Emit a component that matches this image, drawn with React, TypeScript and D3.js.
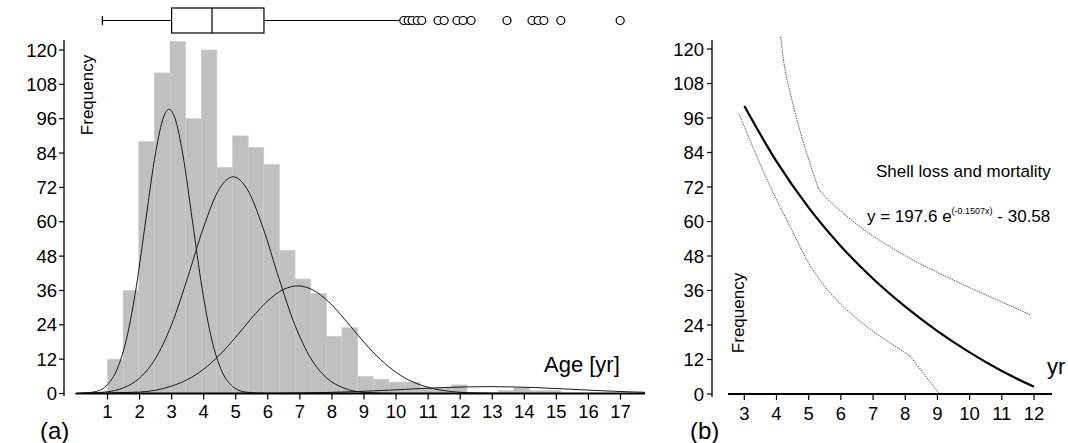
import * as d3 from "d3";

// ---- panel (a): age histogram ----
const binStart = 1;
const binWidth = 0.4875;
const counts = [12, 36, 88, 112, 123, 96, 120, 79, 90, 86, 80, 50, 40, 35, 20, 23, 6, 5, 4, 4, 2, 2, 3, 0, 0, 1, 2, 1, 1];

// fitted normal components, read as (age, frequency) points
const comp1Age = [0, 0.6, 1.0, 1.3, 1.6, 1.9, 2.2, 2.5, 2.75, 2.92, 3.1, 3.35, 3.65, 3.95, 4.25, 4.55, 4.9, 5.3, 6.0, 17.75];
const comp1Freq = [0, 0.6, 3.1, 8.5, 19.4, 37.4, 61.1, 84.1, 96.6, 99.3, 96.3, 83.5, 60.2, 36.7, 18.9, 8.2, 2.5, 0.5, 0, 0];
const comp2Age = [0, 1.0, 1.5, 2.0, 2.5, 3.0, 3.5, 4.0, 4.5, 4.92, 5.35, 5.85, 6.35, 6.85, 7.35, 7.85, 8.35, 9.0, 10.0, 17.75];
const comp2Freq = [0, 0.6, 2.0, 5.4, 12.3, 24.1, 40.5, 58.2, 71.7, 75.7, 71.5, 57.9, 40.1, 23.8, 12.1, 5.3, 2.0, 0.4, 0, 0];
const comp3Age = [0, 2.0, 3.0, 3.5, 4.0, 4.5, 5.0, 5.5, 6.0, 6.5, 6.93, 7.4, 7.9, 8.4, 8.9, 9.4, 9.9, 10.4, 10.9, 11.5, 12.5, 14.0, 17.75];
const comp3Freq = [0, 0.5, 2.6, 4.9, 8.5, 13.5, 19.7, 26.4, 32.4, 36.4, 37.6, 36.2, 32.0, 25.9, 19.2, 13.1, 8.2, 4.7, 2.5, 1.0, 0.2, 0, 0];
const comp4Age = [0, 5.0, 7.0, 8.5, 10.0, 11.5, 12.9, 14.3, 15.8, 17.3, 17.75];
const comp4Freq = [0, 0.02, 0.18, 0.57, 1.29, 2.08, 2.4, 2.08, 1.29, 0.57, 0.44];

// box plot of ages
const boxStats = { low: 0.84, q1: 3.0, median: 4.26, q3: 5.88, high: 10.12 };
const outliers = [10.24, 10.38, 10.5, 10.66, 10.8, 11.31, 11.5, 11.9, 12.09, 12.34, 13.46, 14.24, 14.43, 14.61, 15.14, 16.99];

const ageTicks = d3.range(1, 18);
const freqTicks = d3.range(0, 121, 12);

// ---- panel (b): shell loss and mortality ----
const fitYr = [3, 4, 5, 6, 7, 8, 9, 10, 11, 12];
const fitFreq = [100.2, 80.9, 64.8, 51.4, 40.1, 30.4, 21.9, 14.5, 8.0, 2.5];
// upper band: steep part, then flatter part after the bend at 5.3
const upperSteepYr = [4.13, 4.21, 4.42, 4.68, 4.99, 5.3];
const upperSteepFreq = [124.3, 116.8, 105.1, 93.6, 82.0, 71.5];
const upperFlatYr = [5.3, 5.6, 6.0, 6.5, 7.0, 7.5, 8.0, 9.0, 10.0, 11.0, 11.9];
const upperFlatFreq = [71.5, 67.6, 63.6, 59.0, 55.0, 51.4, 48.1, 42.3, 37.0, 32.0, 27.5];
// lower band: curve down to the bend at 8.15, then straight to zero
const lowerCurveYr = [2.84, 3.3, 3.8, 4.5, 5.0, 5.5, 6.0, 6.5, 7.0, 7.5, 8.15];
const lowerCurveFreq = [97.3, 85.0, 72.3, 56.5, 45.5, 37.5, 31.2, 26.2, 21.8, 18.0, 13.2];
const lowerTailYr = [8.15, 9.03];
const lowerTailFreq = [13.2, 0.5];
const yrTicks = d3.range(3, 13);

const font = "'Liberation Sans', Arial, sans-serif";
const tickSize = 18.5;

export default function App() {
  const xL = d3.scaleLinear().domain([1, 17]).range([107.5, 620.5]);
  const yL = d3.scaleLinear().domain([0, 120]).range([393.5, 50]);
  const xR = d3.scaleLinear().domain([3, 12]).range([744.3, 1034]);
  const yR = d3.scaleLinear().domain([0, 120]).range([394, 49]);

  const lineL = (ages: number[], freqs: number[]) =>
    d3
      .line<number>()
      .x((a) => xL(a))
      .y((_, i) => yL(freqs[i]))
      .curve(d3.curveMonotoneX)(ages) || "";

  const lineR = (yrs: number[], freqs: number[]) =>
    d3
      .line<number>()
      .x((a) => xR(a))
      .y((_, i) => yR(freqs[i]))
      .curve(d3.curveMonotoneX)(yrs) || "";

  const boxY0 = 8,
    boxY1 = 33,
    boxMid = 20.5;

  const dotted = { stroke: "#555", strokeWidth: 1, strokeDasharray: "1.5,1" };

  return (
    <svg
      width={1068}
      height={443}
      style={{ position: "absolute", left: 0, top: 0, background: "#fff", fontFamily: font }}
    >
      {/* ---------- panel (a) ---------- */}
      <g>
        {counts.map((c, i) => {
          const a0 = binStart + i * binWidth;
          if (!c) return null;
          return (
            <rect
              key={i}
              x={xL(a0)}
              y={yL(c)}
              width={xL(a0 + binWidth) - xL(a0)}
              height={yL(0) - yL(c)}
              fill="#c0c0c0"
              stroke="#cbcbcb"
              strokeWidth={0.6}
            />
          );
        })}
      </g>
      <g fill="none" stroke="#1a1a1a" strokeWidth={1}>
        <path d={lineL(comp4Age, comp4Freq)} />
        <path d={lineL(comp3Age, comp3Freq)} />
        <path d={lineL(comp2Age, comp2Freq)} />
        <path d={lineL(comp1Age, comp1Freq)} />
      </g>

      {/* x axis (a) */}
      <line x1={76} x2={645} y1={yL(0)} y2={yL(0)} stroke="#000" strokeWidth={2} />
      {ageTicks.map((t) => (
        <g key={t}>
          <line x1={xL(t)} x2={xL(t)} y1={yL(0)} y2={yL(0) + 6} stroke="#000" strokeWidth={1.2} />
          <text x={xL(t)} y={418} textAnchor="middle" fontSize={tickSize}>
            {t}
          </text>
        </g>
      ))}
      {/* y axis (a) */}
      <line x1={64} x2={64} y1={40} y2={396} stroke="#000" strokeWidth={1.3} />
      {freqTicks.map((t) => (
        <g key={t}>
          <line x1={59} x2={64} y1={yL(t)} y2={yL(t)} stroke="#000" strokeWidth={1.2} />
          <text x={57} y={yL(t) + 6.5} textAnchor="end" fontSize={tickSize}>
            {t}
          </text>
        </g>
      ))}
      <text transform="translate(93,95) rotate(-90)" textAnchor="middle" fontSize={17}>
        Frequency
      </text>
      <text x={544} y={372} fontSize={22}>
        Age [yr]
      </text>
      <text x={40} y={439} fontSize={24}>
        (a)
      </text>

      {/* box plot */}
      <g stroke="#000" strokeWidth={1.2} fill="none">
        <line x1={xL(boxStats.low)} x2={xL(boxStats.q1)} y1={boxMid} y2={boxMid} />
        <line x1={xL(boxStats.q3)} x2={xL(boxStats.high)} y1={boxMid} y2={boxMid} />
        <line x1={xL(boxStats.low)} x2={xL(boxStats.low)} y1={boxMid - 4.5} y2={boxMid + 4.5} />
        <rect x={xL(boxStats.q1)} y={boxY0} width={xL(boxStats.q3) - xL(boxStats.q1)} height={boxY1 - boxY0} fill="#fff" />
        <line x1={xL(boxStats.median)} x2={xL(boxStats.median)} y1={boxY0} y2={boxY1} />
        {outliers.map((o, i) => (
          <circle key={i} cx={xL(o)} cy={boxMid} r={4} fill="#fff" />
        ))}
      </g>

      {/* ---------- panel (b) ---------- */}
      <g fill="none">
        <path d={lineR(upperSteepYr, upperSteepFreq)} {...dotted} />
        <path d={lineR(upperFlatYr, upperFlatFreq)} {...dotted} />
        <path d={lineR(lowerCurveYr, lowerCurveFreq)} {...dotted} />
        <path d={lineR(lowerTailYr, lowerTailFreq)} {...dotted} />
        <path d={lineR(fitYr, fitFreq)} stroke="#000" strokeWidth={2.2} />
      </g>
      <line x1={728} x2={1052} y1={yR(0)} y2={yR(0)} stroke="#000" strokeWidth={2} />
      {yrTicks.map((t) => (
        <g key={t}>
          <line x1={xR(t)} x2={xR(t)} y1={yR(0)} y2={yR(0) + 6} stroke="#000" strokeWidth={1.2} />
          <text x={xR(t)} y={420} textAnchor="middle" fontSize={tickSize}>
            {t}
          </text>
        </g>
      ))}
      <line x1={712} x2={712} y1={40} y2={397} stroke="#000" strokeWidth={1.3} />
      {freqTicks.map((t) => (
        <g key={t}>
          <line x1={707} x2={712} y1={yR(t)} y2={yR(t)} stroke="#000" strokeWidth={1.2} />
          <text x={704} y={yR(t) + 6.5} textAnchor="end" fontSize={tickSize}>
            {t}
          </text>
        </g>
      ))}
      <text transform="translate(744,313) rotate(-90)" textAnchor="middle" fontSize={17}>
        Frequency
      </text>
      <text x={876} y={177} fontSize={17}>
        Shell loss and mortality
      </text>
      <text x={867} y={222} fontSize={17}>
        y = 197.6 e
        <tspan fontSize={9} dy={-8}>
          (-0.1507x)
        </tspan>
        <tspan dy={8}> - 30.58</tspan>
      </text>
      <text x={1047} y={374} fontSize={22}>
        yr
      </text>
      <text x={690} y={439} fontSize={24}>
        (b)
      </text>
    </svg>
  );
}
